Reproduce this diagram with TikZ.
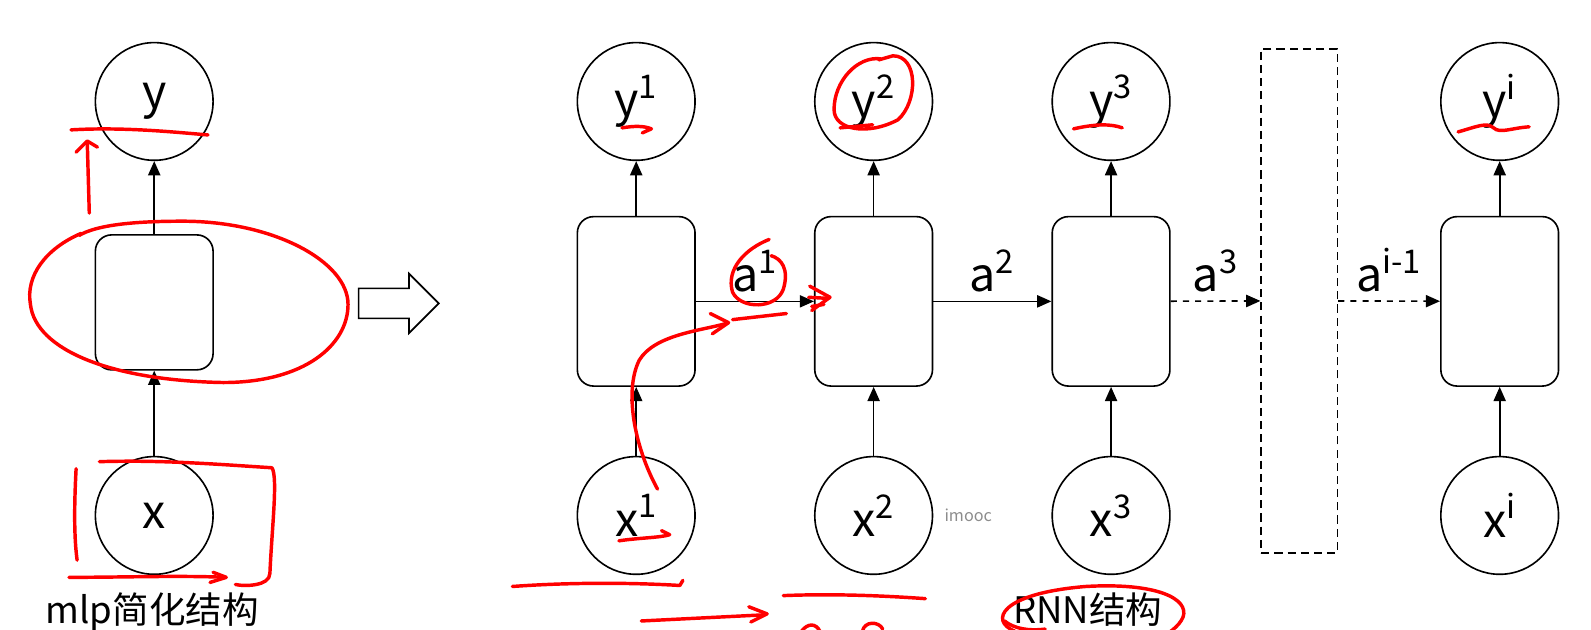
\documentclass[tikz,border=0pt]{standalone}
\usepackage{fontspec}
\setmainfont{Noto Sans CJK SC}
\usetikzlibrary{positioning, arrows.meta, calc, shapes.arrows}

\begin{document}
\begin{tikzpicture}[
    x=0.5pt, y=-0.5pt,
    font=\fontsize{23}{25}\selectfont,
    unit/.style={draw, thick, circle, minimum size=58pt, inner sep=0pt},
    cell/.style={draw, thick, rounded corners=8pt,
        minimum width=58pt, minimum height=83.5pt},
    flow/.style={-{Triangle[length=7pt, width=6pt]}, thick},
    lab/.style={above=3pt, inner sep=1pt},
    caption/.style={font=\fontsize{18}{20}\selectfont},
    pen/.style={draw=red, line width=1.7pt, line cap=round, line join=round},
]

\useasboundingbox (0,0) rectangle (1568,620);

% mlp
\node[unit] (y) at (152,100) {y};
\node[cell, minimum height=66.5pt] (h) at (152,298) {};
\node[unit] (x) at (152,508) {x};
\draw[flow] (h) -- (y);
\draw[flow] (x) -- (h);
\node[caption] (mlp) at (150,603) {mlp简化结构};

\node[single arrow, draw, thick, inner sep=7pt, minimum height=39.5pt,
      single arrow head extend=7.25pt] (turn) at (385.5,299) {};

% RNN
\def\colA{627}
\def\colB{861}
\def\colC{1095}
\def\colD{1478}

\foreach \c/\s in {\colA/1, \colB/2, \colC/3, \colD/i} {
    \node[unit] (y\s) at (\c,100) {y\textsuperscript{\s}};
    \node[cell] (h\s) at (\c,297) {};
    \node[unit] (x\s) at (\c,508) {x\textsuperscript{\s}};
    \draw[flow] (h\s) -- (y\s);
    \draw[flow] (x\s) -- (h\s);
}

\node[draw, thick, dashed, dash pattern=on 4pt off 2.5pt,
      minimum width=37.5pt, minimum height=248.5pt] (gap) at (1280.5,296.5) {};

\draw[flow] (h1) -- node[lab] {a\textsuperscript{1}} (h2);
\draw[flow] (h2) -- node[lab] {a\textsuperscript{2}} (h3);
\draw[flow, dashed] (h3) -- node[lab] {a\textsuperscript{3}} (gap);
\draw[flow, dashed] (gap) -- node[lab] {a\textsuperscript{i-1}} (hi);

\node[text=black!45, font=\fontsize{8}{9}\selectfont, right=2pt of x2] (wm) {imooc};
\node[caption] (rnn) at (1072,601) {RNN结构};

% red pen marks
\draw[pen] (70,128) .. controls (120,125) and (170,130) .. (205,133);
\draw[pen] (88,210) -- (86,140);
\draw[pen] (75,150) -- (86,139) -- (96,145);
\draw[pen] (80,230) .. controls (45,245) and (25,272) .. (30,300)
    .. controls (35,345) and (110,375) .. (220,377)
    .. controls (300,377) and (343,340) .. (343,300)
    .. controls (343,258) and (270,218) .. (180,218)
    .. controls (130,218) and (95,222) .. (78,232);
\draw[pen] (75,462) .. controls (73,500) and (73,530) .. (76,552);
\draw[pen] (98,455) .. controls (160,453) and (220,458) .. (268,461)
    .. controls (274,470) and (268,520) .. (266,565)
    .. controls (266,578) and (240,578) .. (232,576);
\draw[pen] (68,569) .. controls (120,569) and (180,567) .. (222,569);
\draw[pen] (210,564) -- (223,569) -- (207,574);

\draw[pen] (613,126) .. controls (625,124) and (635,124) .. (642,127) -- (633,131);
\draw[pen] (868,58) .. controls (845,55) and (822,80) .. (822,108)
    .. controls (822,128) and (855,134) .. (885,118)
    .. controls (905,100) and (905,55) .. (880,55) -- (866,59);
\draw[pen] (828,126) -- (860,123);
\draw[pen] (1058,127) .. controls (1080,122) and (1095,122) .. (1106,126);
\draw[pen] (1437,130) .. controls (1455,125) and (1465,120) .. (1472,126)
    .. controls (1478,132) and (1490,126) .. (1507,125);

\draw[pen] (758,236) .. controls (735,245) and (715,265) .. (722,288)
    .. controls (730,305) and (765,305) .. (772,285)
    .. controls (778,265) and (770,255) .. (760,252);
\draw[pen] (722,315) -- (775,309);
\draw[pen] (797,293) -- (815,294);
\draw[pen] (800,302) -- (812,300);
\draw[pen] (798,282) -- (818,293) -- (800,306);

\draw[pen] (648,482) .. controls (625,440) and (615,385) .. (630,355)
    .. controls (645,330) and (690,326) .. (715,319);
\draw[pen] (700,309) -- (718,318) -- (702,329);
\draw[pen] (610,533) .. controls (630,530) and (650,530) .. (660,527) -- (652,523);

\draw[pen] (505,578) .. controls (560,574) and (620,574) .. (670,577) -- (673,572);
\draw[pen] (632,612) -- (752,606);
\draw[pen] (738,598) -- (756,605) -- (740,613);
\draw[pen] (772,587) .. controls (820,585) and (870,587) .. (912,590);
\draw[pen] (790,622) .. controls (796,614) and (804,614) .. (808,622);
\draw[pen] (850,622) .. controls (852,612) and (866,612) .. (870,620);

\draw[pen] (1000,622) .. controls (975,612) and (985,585) .. (1070,578)
    .. controls (1140,574) and (1172,590) .. (1166,608)
    .. controls (1162,618) and (1150,625) .. (1142,630);
\draw[pen] (990,612) .. controls (1000,620) and (1015,622) .. (1030,620);

\end{tikzpicture}
\end{document}
